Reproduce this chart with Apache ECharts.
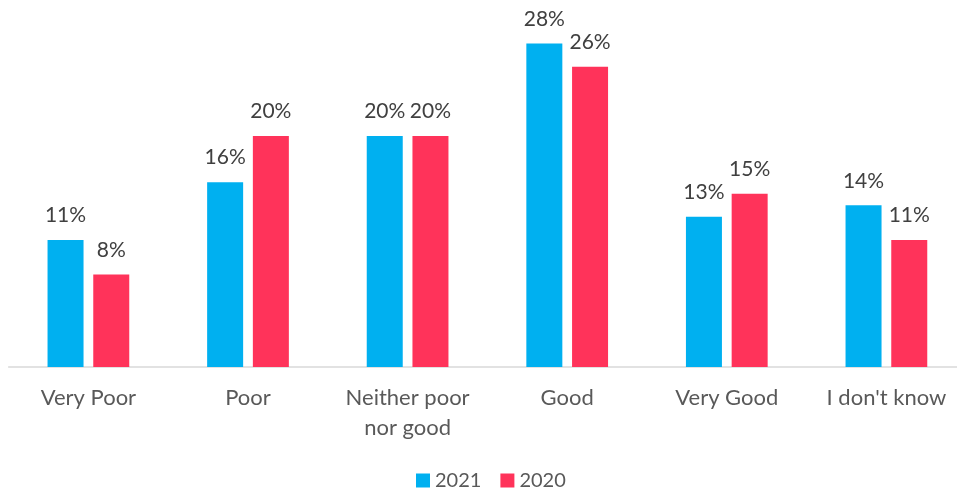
<!DOCTYPE html>
<html>
<head>
<meta charset="utf-8">
<style>
  html, body { margin: 0; padding: 0; background: #ffffff; overflow: hidden; }
  /* the last category slot runs a little past the right edge of the window */
  #chart { width: 967px; height: 493px; }
</style>
<script src="https://cdn.jsdelivr.net/npm/echarts@6/dist/echarts.min.js"></script>
</head>
<body>
<div id="chart"></div>
<script>
// Survey answers, share of respondents (%)
const categories = ['Very Poor', 'Poor', 'Neither poor\nnor good', 'Good', 'Very Good', "I don't know"];
const values2021 = [11, 16, 20, 28, 13, 14];
const values2020 = [8, 20, 20, 26, 15, 11];
const seriesNames = ['2021', '2020'];

const FONT = 'Lato, "Open Sans", sans-serif';

const chart = echarts.init(document.getElementById('chart'), null, { renderer: 'canvas' });

const labelStyle = {
  show: true,
  position: 'top',
  distance: 14,
  formatter: p => p.value + '%',
  color: '#404040',
  fontFamily: FONT,
  fontSize: 21
};

chart.setOption({
  animation: false,
  backgroundColor: '#ffffff',
  grid: { left: 8.6, right: 0.8, top: 20.5, bottom: 126, containLabel: false },
  legend: {
    top: 470,
    left: 416,
    padding: 0,
    itemWidth: 14,
    itemHeight: 14,
    itemGap: 19,
    icon: 'rect',
    textStyle: { color: '#595959', fontFamily: FONT, fontSize: 20, lineHeight: 21 },
    data: seriesNames
  },
  xAxis: {
    type: 'category',
    data: categories,
    axisLine: { lineStyle: { color: '#d9d9d9', width: 1.5 } },
    axisTick: { show: false },
    axisLabel: {
      color: '#595959',
      fontFamily: FONT,
      fontSize: 22,
      lineHeight: 30,
      margin: 16,
      interval: 0
    }
  },
  yAxis: {
    type: 'value',
    min: 0,
    max: 30,
    show: false,
    splitLine: { show: false }
  },
  series: [
    {
      name: seriesNames[0],
      type: 'bar',
      data: values2021,
      barWidth: 36,
      barGap: '27%',
      itemStyle: { color: '#00B0F0' },
      label: labelStyle
    },
    {
      name: seriesNames[1],
      type: 'bar',
      data: values2020,
      barWidth: 36,
      itemStyle: { color: '#FF335A' },
      label: labelStyle
    }
  ]
});
</script>
</body>
</html>
